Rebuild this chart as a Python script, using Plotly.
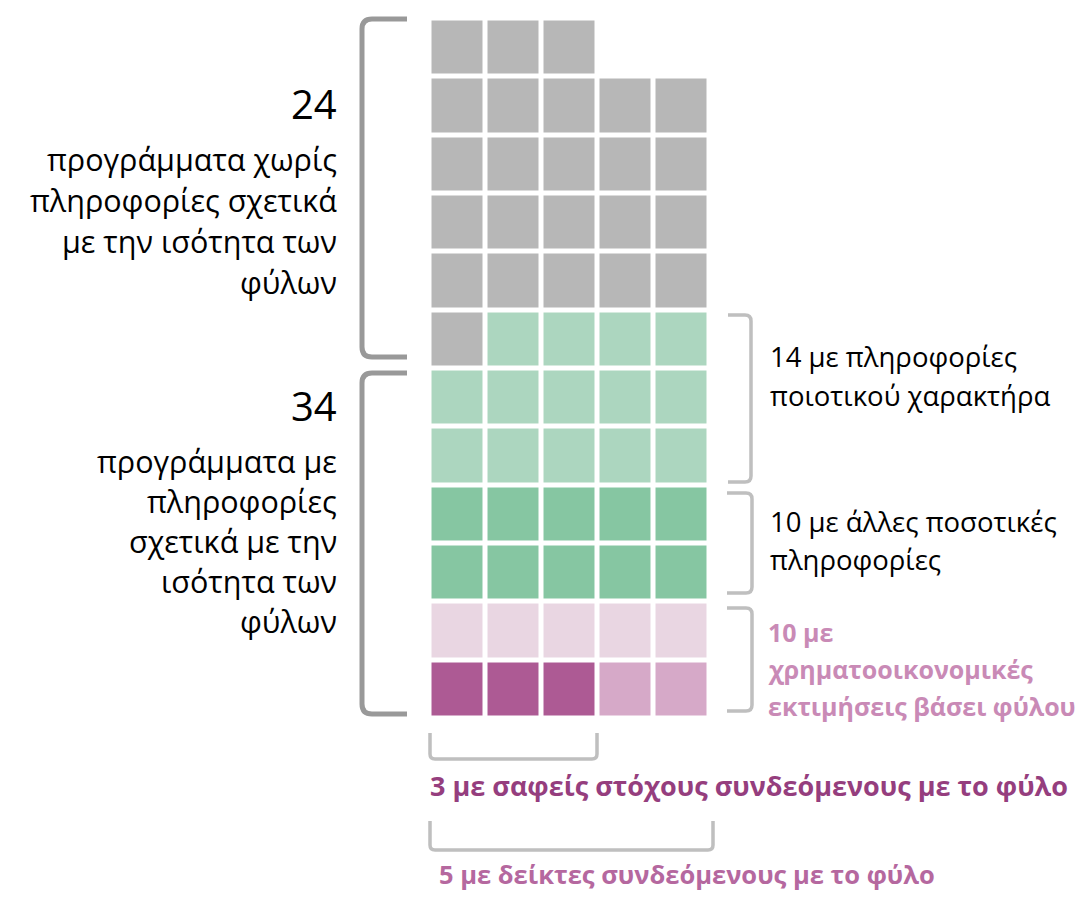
import plotly.graph_objects as go

# ---------------- data ----------------
categories = ["Χωρίς πληροφορίες", "Ποιοτικές πληροφορίες", "Άλλες ποσοτικές",
              "Χρηματοοικονομικές εκτιμήσεις", "Σαφείς στόχοι", "Δείκτες"]
counts = [24, 14, 10, 5, 3, 2]
cell_order = [0, 1, 2, 3, 4, 5]          # fill sequence (reading order)
colors = ["#b7b7b7", "#acd6bf", "#86c6a2", "#e9d6e2", "#ad5a94", "#d6a9c8"]
n_cols = 5

# ---------------- build waffle matrix (reading order, first row partial) ----------------
seq = []
for k in cell_order:
    seq += [k] * counts[k]
total = len(seq)
n_rows = -(-total // n_cols)
first = total - (n_rows - 1) * n_cols
z = []
idx = 0
for r in range(n_rows):
    row = []
    ncells = first if r == 0 else n_cols
    for c in range(n_cols):
        if c < ncells:
            row.append(seq[idx]); idx += 1
        else:
            row.append(None)
    z.append(row)

# ---------------- geometry (page pixels -> grid units) ----------------
OFF = 8                      # page body margin
W, H = 1092 - 2 * OFF, 900 - 2 * OFF
X0, CW = 429.5 - OFF, 55.9
Y0, RH = 18.5 - OFF, 58.33
def cx(px): return (px - OFF - X0) / CW - 0.5
def ry(py): return (py - OFF - Y0) / RH - 0.5

ncat = len(colors)
cs = []
for i, col in enumerate(colors):
    cs.append([i / ncat, col]); cs.append([(i + 1) / ncat, col])

fig = go.Figure(go.Heatmap(
    z=z, x=list(range(n_cols)), y=list(range(n_rows)),
    zmin=-0.5, zmax=ncat - 0.5, colorscale=cs, showscale=False,
    xgap=5, ygap=5, hoverinfo="skip"))

def rounded(kind, a, b, c, rad=8):
    if kind == "left":
        (y1, y2) = b
        s = f"M{cx(c)},{ry(y1)} L{cx(a+rad)},{ry(y1)} Q{cx(a)},{ry(y1)} {cx(a)},{ry(y1+rad)} " \
            f"L{cx(a)},{ry(y2-rad)} Q{cx(a)},{ry(y2)} {cx(a+rad)},{ry(y2)} L{cx(c)},{ry(y2)}"
    elif kind == "right":
        (y1, y2) = b
        s = f"M{cx(c)},{ry(y1)} L{cx(a-rad)},{ry(y1)} Q{cx(a)},{ry(y1)} {cx(a)},{ry(y1+rad)} " \
            f"L{cx(a)},{ry(y2-rad)} Q{cx(a)},{ry(y2)} {cx(a-rad)},{ry(y2)} L{cx(c)},{ry(y2)}"
    else:
        (x1, x2) = b
        s = f"M{cx(x1)},{ry(c)} L{cx(x1)},{ry(a-rad)} Q{cx(x1)},{ry(a)} {cx(x1+rad)},{ry(a)} " \
            f"L{cx(x2-rad)},{ry(a)} Q{cx(x2)},{ry(a)} {cx(x2)},{ry(a-rad)} L{cx(x2)},{ry(c)}"
    return s

dark = "#999999"
light = "#bfbfbf"
shapes = [
    dict(type="path", path=rounded("left", 362, (19, 357), 407, 10), line=dict(color=dark, width=5)),
    dict(type="path", path=rounded("left", 362, (373, 714), 407, 10), line=dict(color=dark, width=5)),
    dict(type="path", path=rounded("right", 751, (315, 482), 728, 6), line=dict(color=light, width=3.5)),
    dict(type="path", path=rounded("right", 752, (493, 593), 727, 6), line=dict(color=light, width=3.5)),
    dict(type="path", path=rounded("right", 752, (608, 711), 727, 6), line=dict(color=light, width=3.5)),
    dict(type="path", path=rounded("bottom", 759, (430, 597), 733, 5), line=dict(color=light, width=3.5)),
    dict(type="path", path=rounded("bottom", 850, (430, 713), 821, 5), line=dict(color=light, width=3.5)),
]
for s in shapes:
    s["xref"] = "x"; s["yref"] = "y"; s["layer"] = "above"

FONT = "Open Sans"
ann = []
def txt(t, px, py, size, color="#000000", anchor="left", bold=False):
    ann.append(dict(text=(f"<b>{t}</b>" if bold else t), x=(px - OFF) / W, y=1 - (py - OFF) / H,
                    xref="paper", yref="paper", xanchor=anchor, yanchor="middle",
                    showarrow=False, borderpad=0,
                    font=dict(family=FONT, size=size, color=color)))

# left labels
txt(str(counts[0]), 338, 103, 40, anchor="right")
for i, line in enumerate(["προγράμματα χωρίς", "πληροφορίες σχετικά", "με την ισότητα των", "φύλων"]):
    txt(line, 338, 159 + i * 41, 30.5, anchor="right")
txt(str(sum(counts[1:])), 338, 406, 40, anchor="right")
for i, line in enumerate(["προγράμματα με", "πληροφορίες", "σχετικά με την", "ισότητα των", "φύλων"]):
    txt(line, 338, 461 + i * 40, 30.5, anchor="right")

# right labels
for i, line in enumerate([f"{counts[1]} με πληροφορίες", "ποιοτικού χαρακτήρα"]):
    txt(line, 769, 357 + i * 38, 27.5)
for i, line in enumerate([f"{counts[2]} με άλλες ποσοτικές", "πληροφορίες"]):
    txt(line, 769, 521 + i * 38, 27.5)
for i, line in enumerate([f"{counts[3] + counts[4] + counts[5]} με", "χρηματοοικονομικές", "εκτιμήσεις βάσει φύλου"]):
    txt(line, 767, 632 + i * 37, 25, color="#c98ab6", bold=True)

# bottom labels
txt(f"{counts[4]} με σαφείς στόχους συνδεόμενους με το φύλο", 429, 785, 27, color="#953e7e", bold=True)
txt(f"{counts[4] + counts[5]} με δείκτες συνδεόμενους με το φύλο", 438, 874, 25.5, color="#b5689f", bold=True)

fig.update_layout(
    width=W, height=H, margin=dict(l=0, r=0, t=0, b=0),
    paper_bgcolor="white", plot_bgcolor="white",
    xaxis=dict(range=[cx(OFF), cx(OFF + W)], visible=False, fixedrange=True),
    yaxis=dict(range=[ry(OFF + H), ry(OFF)], visible=False, fixedrange=True),
    shapes=shapes, annotations=ann, showlegend=False,
)
fig.write_html("out.html")
